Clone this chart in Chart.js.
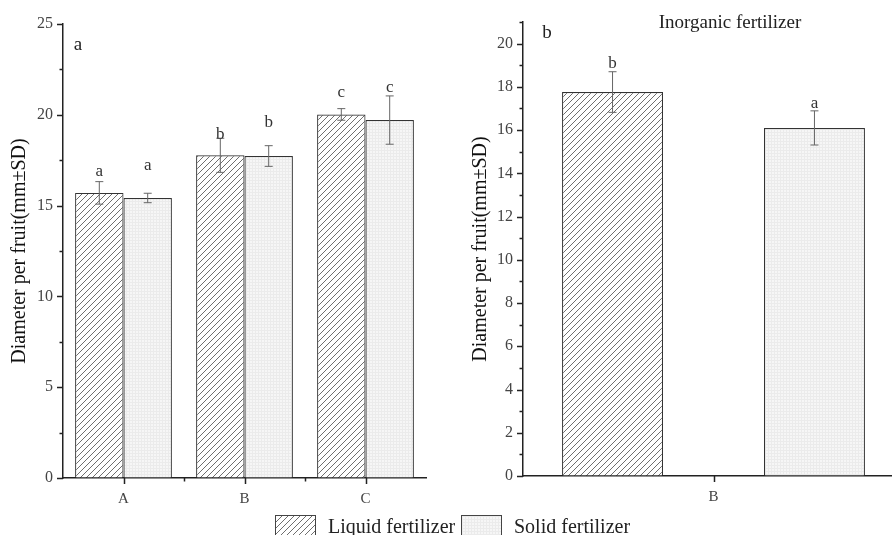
<!DOCTYPE html>
<html>
<head>
<meta charset="utf-8">
<script src="https://cdn.jsdelivr.net/npm/chart.js@4"></script>
<style>
  body { margin: 0; background: #fff; width: 892px; height: 535px; overflow: hidden; position: relative; font-family: "Liberation Serif", serif; }
  #leftBox { position: absolute; left: 0; top: 0; width: 450px; height: 535px; }
  #rightBox { position: absolute; left: 450px; top: 0; width: 442px; height: 535px; overflow: hidden; }
  .item { position: absolute; top: 515px; display: flex; align-items: center; font-size: 20px; color: #222; line-height: 22px; }
  .swatch { width: 39px; height: 20px; border: 1px solid #444; margin-right: 12px; }
</style>
</head>
<body>
<div id="leftBox"><canvas id="leftChart" width="450" height="535"></canvas></div>
<div id="rightBox"><canvas id="rightChart" width="470" height="535"></canvas></div>
<div class="item" style="left:275px"><div class="swatch" id="swLiquid"></div><span>Liquid fertilizer</span></div>
<div class="item" style="left:461px"><div class="swatch" id="swSolid"></div><span>Solid fertilizer</span></div>
<script>
// left panel (a)
const categories = ['A', 'B', 'C'];
const liquid = [15.7, 17.77, 20.02];
const liquidSD = [0.62, 0.94, 0.32];
const liquidLetters = ['a', 'b', 'c'];
const liquidLetterAt = [16.85, 18.94, 21.2];
const solid = [15.42, 17.73, 19.71];
const solidSD = [0.26, 0.57, 1.33];
const solidLetters = ['a', 'b', 'c'];
const solidLetterAt = [17.18, 19.55, 21.48];

// right panel (b)
const rightCategories = ['B'];
const rightLiquid = [17.76];
const rightLiquidSD = [0.94];
const rightLiquidLetters = ['b'];
const rightLiquidLetterAt = [19.08];
const rightSolid = [16.1];
const rightSolidSD = [0.79];
const rightSolidLetters = ['a'];
const rightSolidLetterAt = [17.23];

const SERIF = '"Liberation Serif", "DejaVu Serif", serif';

function makeHatch() {
  const c = document.createElement('canvas');
  c.width = 6; c.height = 6;
  const g = c.getContext('2d');
  g.fillStyle = '#fff';
  g.fillRect(0, 0, 6, 6);
  g.strokeStyle = '#555';
  g.lineWidth = 0.85;
  g.beginPath();
  g.moveTo(-1, 7); g.lineTo(7, -1);
  g.moveTo(-1, 1); g.lineTo(1, -1);
  g.moveTo(5, 7); g.lineTo(7, 5);
  g.stroke();
  return c;
}

function makeDots() {
  const c = document.createElement('canvas');
  c.width = 3; c.height = 3;
  const g = c.getContext('2d');
  g.fillStyle = '#f6f6f6';
  g.fillRect(0, 0, 3, 3);
  g.fillStyle = '#ebebeb';
  g.fillRect(0, 0, 3, 1);
  g.fillRect(0, 0, 1, 3);
  return c;
}

const hatchCanvas = makeHatch();
const dotsCanvas = makeDots();
const tmp = document.createElement('canvas').getContext('2d');
const hatch = tmp.createPattern(hatchCanvas, 'repeat');
const dots = tmp.createPattern(dotsCanvas, 'repeat');

document.getElementById('swLiquid').style.background = 'url(' + hatchCanvas.toDataURL() + ')';
document.getElementById('swSolid').style.background = 'url(' + dotsCanvas.toDataURL() + ')';

// error bars + significance letters
const errorBars = {
  id: 'errorBars',
  afterDatasetsDraw(chart) {
    const ctx = chart.ctx;
    const y = chart.scales.y;
    ctx.save();
    chart.data.datasets.forEach((ds, i) => {
      if (!ds.sd) return;
      const meta = chart.getDatasetMeta(i);
      meta.data.forEach((bar, j) => {
        const v = ds.data[j];
        const top = y.getPixelForValue(v + ds.sd[j]);
        const bot = y.getPixelForValue(v - ds.sd[j]);
        ctx.strokeStyle = '#666';
        ctx.lineWidth = 1;
        ctx.beginPath();
        ctx.moveTo(bar.x, top); ctx.lineTo(bar.x, bot);
        ctx.moveTo(bar.x - 4, top); ctx.lineTo(bar.x + 4, top);
        ctx.moveTo(bar.x - 4, bot); ctx.lineTo(bar.x + 4, bot);
        ctx.stroke();
        ctx.fillStyle = '#333';
        ctx.font = '17px ' + SERIF;
        ctx.textAlign = 'center';
        ctx.textBaseline = 'middle';
        ctx.fillText(ds.letters[j], bar.x, y.getPixelForValue(ds.letterAt[j]));
      });
    });
    ctx.restore();
  }
};

// tick marks (major and minor) drawn on the axes
const axisTicks = {
  id: 'axisTicks',
  afterDraw(chart, args, opts) {
    const ctx = chart.ctx;
    const y = chart.scales.y, x = chart.scales.x;
    const area = chart.chartArea;
    ctx.save();
    ctx.strokeStyle = '#222';
    ctx.lineWidth = 1.5;
    ctx.beginPath();
    for (let v = y.min; v <= y.max + 1e-9; v += opts.minor) {
      const py = Math.round(y.getPixelForValue(v)) + 0.5;
      const len = Math.abs(v / opts.major - Math.round(v / opts.major)) < 1e-6 ? 6 : 3.5;
      ctx.moveTo(area.left - len, py);
      ctx.lineTo(area.left, py);
    }
    const n = x.ticks.length;
    for (let i = 0; i < n; i++) {
      const px = Math.round(x.getPixelForTick(i)) + 0.5;
      ctx.moveTo(px, area.bottom);
      ctx.lineTo(px, area.bottom + 6);
      if (i < n - 1) {
        const mx = Math.round((x.getPixelForTick(i) + x.getPixelForTick(i + 1)) / 2) + 0.5;
        ctx.moveTo(mx, area.bottom);
        ctx.lineTo(mx, area.bottom + 3.5);
      }
    }
    ctx.stroke();
    ctx.restore();
  }
};

// free text: panel letter and title
const labels = {
  id: 'labels',
  afterDraw(chart, args, opts) {
    const ctx = chart.ctx;
    const a = chart.chartArea;
    ctx.save();
    ctx.fillStyle = '#222';
    ctx.textAlign = 'center';
    ctx.textBaseline = 'middle';
    ctx.font = '19px ' + SERIF;
    ctx.fillText(opts.panel, a.left + opts.panelDx, a.top + opts.panelDy);
    if (opts.title) ctx.fillText(opts.title, a.left + opts.titleDx, a.top + opts.titleDy);
    ctx.restore();
  }
};

function baseOptions(cfg) {
  return {
    responsive: false,
    animation: false,
    layout: { padding: { top: cfg.top, right: cfg.right, left: 0, bottom: cfg.bottom } },
    plugins: {
      legend: { display: false },
      tooltip: { enabled: false },
      axisTicks: { major: cfg.major, minor: cfg.minor },
      labels: cfg.labels
    },
    scales: {
      x: {
        grid: { display: true, drawOnChartArea: false, drawTicks: false },
        border: { display: true, color: '#222', width: 1.5 },
        ticks: { padding: 12, color: '#444', font: { family: SERIF, size: 15 } },
        afterFit: s => { s.height = 35; }
      },
      y: {
        min: 0,
        max: cfg.max,
        grid: { display: true, drawOnChartArea: false, drawTicks: false },
        border: { display: true, color: '#222', width: 1.5 },
        ticks: { stepSize: cfg.major, padding: 10, color: '#444', font: { family: SERIF, size: 16 } },
        afterBuildTicks: s => { s.ticks = s.ticks.filter(t => Math.abs(t.value % cfg.major) < 1e-6); },
        title: {
          display: true,
          text: 'Diameter per fruit(mm±SD)',
          color: '#111',
          font: { family: SERIF, size: 20 },
          padding: { top: cfg.titlePad, bottom: 0 }
        },
        afterFit: s => { s.width = cfg.yWidth; }
      }
    }
  };
}

new Chart(document.getElementById('leftChart'), {
  type: 'bar',
  data: {
    labels: categories,
    datasets: [
      { label: 'Liquid fertilizer', data: liquid, sd: liquidSD, letters: liquidLetters, letterAt: liquidLetterAt,
        backgroundColor: hatch, borderColor: '#333', borderWidth: 1.2, categoryPercentage: 0.8, barPercentage: 1 },
      { label: 'Solid fertilizer', data: solid, sd: solidSD, letters: solidLetters, letterAt: solidLetterAt,
        backgroundColor: dots, borderColor: '#333', borderWidth: 1.2, categoryPercentage: 0.8, barPercentage: 1 }
    ]
  },
  options: baseOptions({ top: 24, right: 24, bottom: 22, yWidth: 63, max: 25, major: 5, minor: 2.5, titlePad: 8,
    labels: { panel: 'a', panelDx: 15, panelDy: 21 } }),
  plugins: [errorBars, axisTicks, labels]
});

new Chart(document.getElementById('rightChart'), {
  type: 'bar',
  data: {
    labels: rightCategories,
    datasets: [
      { label: 'Liquid fertilizer', data: rightLiquid, sd: rightLiquidSD, letters: rightLiquidLetters, letterAt: rightLiquidLetterAt,
        backgroundColor: hatch, borderColor: '#333', borderWidth: 1.2, categoryPercentage: 0.795, barPercentage: 1 },
      { label: '', data: [null], categoryPercentage: 0.795, barPercentage: 1 },
      { label: 'Solid fertilizer', data: rightSolid, sd: rightSolidSD, letters: rightSolidLetters, letterAt: rightSolidLetterAt,
        backgroundColor: dots, borderColor: '#333', borderWidth: 1.2, categoryPercentage: 0.795, barPercentage: 1 }
    ]
  },
  options: baseOptions({ top: 22, right: 16, bottom: 24, yWidth: 73, max: 21, major: 2, minor: 1, titlePad: 19,
    labels: { panel: 'b', panelDx: 24, panelDy: 11, title: 'Inorganic fertilizer', titleDx: 207, titleDy: 1 } }),
  plugins: [errorBars, axisTicks, labels]
});
</script>
</body>
</html>
